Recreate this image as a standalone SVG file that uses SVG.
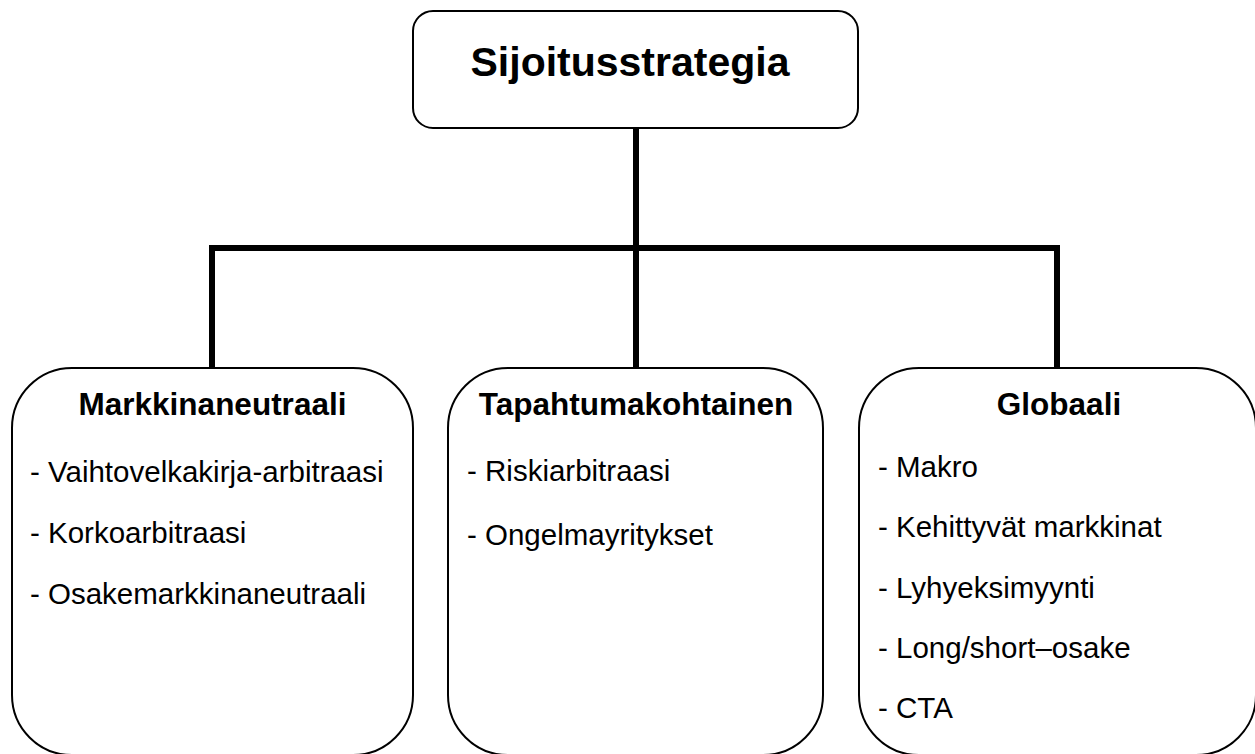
<svg xmlns="http://www.w3.org/2000/svg" width="1255" height="754" viewBox="0 0 1255 754">
<style>
.box{fill:#fff;stroke:#000;stroke-width:2}
.conn{fill:none;stroke:#000;stroke-width:6;stroke-linejoin:miter;stroke-linecap:butt}
.root{font-family:"Liberation Sans",Arial,sans-serif;font-weight:bold;font-size:41px;fill:#000}
.title{font-family:"Liberation Sans",Arial,sans-serif;font-weight:bold;font-size:31.5px;fill:#000}
.item{font-family:"Liberation Sans",Arial,sans-serif;font-size:29.5px;fill:#000}
</style>
<rect width="1255" height="754" fill="#fff"/>
<g id="connectors">
<line class="conn" x1="636" y1="128" x2="636" y2="248"/>
<polyline class="conn" points="212,368 212,248 1057,248 1057,368"/>
<line class="conn" x1="636" y1="248" x2="636" y2="368"/>
</g>
<g id="root">
<rect class="box" x="413" y="11" width="445" height="117" rx="20" ry="20"/>
<text class="root" x="630" y="76" text-anchor="middle">Sijoitusstrategia</text>
</g>
<g id="markkinaneutraali">
<rect class="box" x="12" y="368" width="401" height="387" rx="60" ry="60"/>
<text class="title" x="212.5" y="415" text-anchor="middle">Markkinaneutraali</text>
<text class="item" x="30" y="482">- Vaihtovelkakirja-arbitraasi</text>
<text class="item" x="30" y="543">- Korkoarbitraasi</text>
<text class="item" x="30" y="604">- Osakemarkkinaneutraali</text>
</g>
<g id="tapahtumakohtainen">
<rect class="box" x="448" y="368" width="375" height="387" rx="60" ry="60"/>
<text class="title" x="636" y="415" text-anchor="middle">Tapahtumakohtainen</text>
<text class="item" x="467" y="481">- Riskiarbitraasi</text>
<text class="item" x="467" y="545">- Ongelmayritykset</text>
</g>
<g id="globaali">
<rect class="box" x="859" y="368" width="397" height="387" rx="60" ry="60"/>
<text class="title" x="1059" y="415" text-anchor="middle">Globaali</text>
<text class="item" x="878" y="477">- Makro</text>
<text class="item" x="878" y="537">- Kehittyvät markkinat</text>
<text class="item" x="878" y="598">- Lyhyeksimyynti</text>
<text class="item" x="878" y="658">- Long/short–osake</text>
<text class="item" x="878" y="718">- CTA</text>
</g>
</svg>
